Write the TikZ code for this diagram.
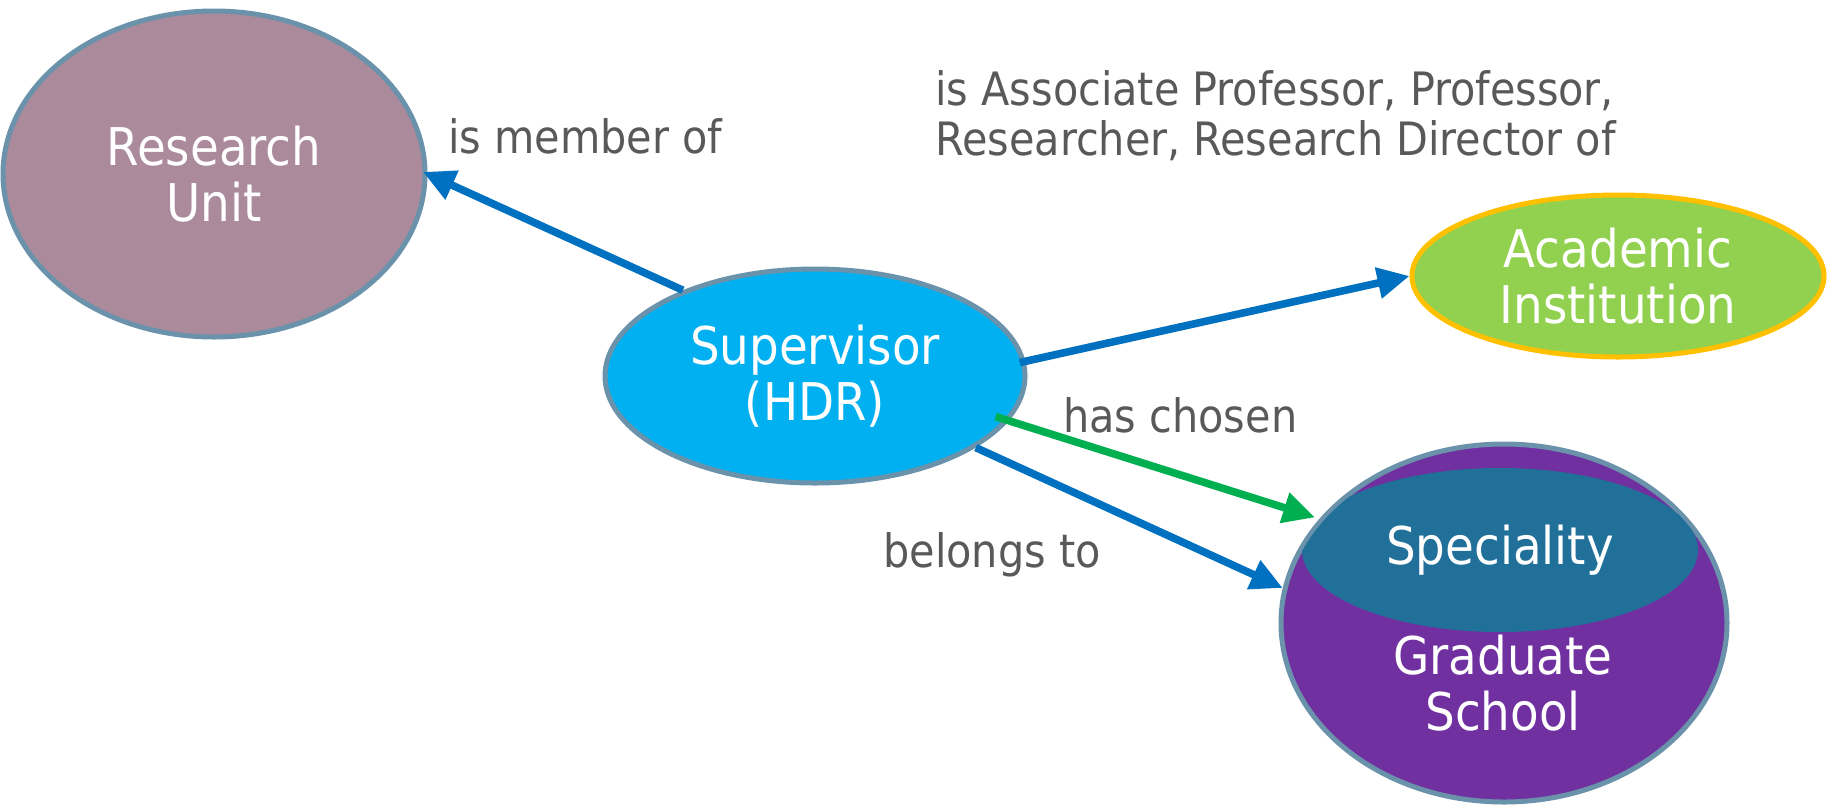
\documentclass[tikz,border=0pt]{standalone}
\usepackage{fontspec}
\setmainfont{DejaVu Sans Condensed}
\usetikzlibrary{shapes.geometric,arrows.meta}
\definecolor{rufill}{HTML}{AB8A9C}
\definecolor{bord}{HTML}{6A93AB}
\definecolor{supfill}{HTML}{00B0F0}
\definecolor{acfill}{HTML}{92D050}
\definecolor{acbord}{HTML}{FFC000}
\definecolor{gsfill}{HTML}{7030A0}
\definecolor{spfill}{HTML}{20709A}
\definecolor{arrblue}{HTML}{0070C0}
\definecolor{arrgreen}{HTML}{00B050}
\definecolor{lblgray}{HTML}{595959}
\newcommand\mynodefont{\fontsize{26}{28}\selectfont}
\newcommand\mylblfont{\fontsize{23}{25}\selectfont}
\tikzset{
  ell/.style={ellipse, draw=bord, line width=2.5pt, inner sep=0pt, text=white, font=\mynodefont, align=center},
  conn/.style={line width=3.8pt, -{Triangle[length=16pt,width=15pt]}},
  lbl/.style={text=lblgray, font=\mylblfont, inner sep=0pt, align=left}
}
\begin{document}
\begin{tikzpicture}[x=0.5pt,y=-0.5pt]
\useasboundingbox (0,0) rectangle (1835,805);
% nodes
\node[ell, fill=rufill, minimum width=211pt, minimum height=163pt] (ru) at (214,174) {Research\\Unit};
\node[ell, fill=supfill, minimum width=210pt, minimum height=107pt] (sup) at (815,376) {Supervisor\\(HDR)};
\node[ell, fill=acfill, draw=acbord, minimum width=206pt, minimum height=81pt] (ac) at (1618,276) {Academic\\Institution};
\node[ell, fill=gsfill, minimum width=223pt, minimum height=179pt] (gs) at (1504,623) {};
\begin{scope}
  \clip (1504,623) ellipse [x radius=110.5pt, y radius=88.5pt];
  \node[ell, draw=none, fill=spfill, minimum width=198pt, minimum height=82pt] (sp) at (1500,550) {Speciality};
\end{scope}
\node[text=white, font=\mynodefont, align=center, inner sep=0pt] (gstext) at (1503,683) {Graduate\\School};
% labels
\node[lbl, anchor=base west] (l1) at (448,153) {is member of};
\node[lbl, anchor=base west] (l2) at (935,155) {is Associate Professor, Professor,\\Researcher, Research Director of};
\node[lbl, anchor=base west] (l3) at (1063,432) {has chosen};
\node[lbl, anchor=base west] (l4) at (883,567) {belongs to};
% connectors
\draw[conn, arrblue, shorten >=-2.5pt] (sup.147.8) -- (ru.east);
\draw[conn, arrblue, shorten <=-3pt] (sup.4.2) -- (ac.west);
\draw[conn, arrgreen, shorten <=-7pt] (sup.-13.3) -- (sp.170);
\draw[conn, arrblue] (sup.-24.9) -- (gs.171);
\end{tikzpicture}
\end{document}
